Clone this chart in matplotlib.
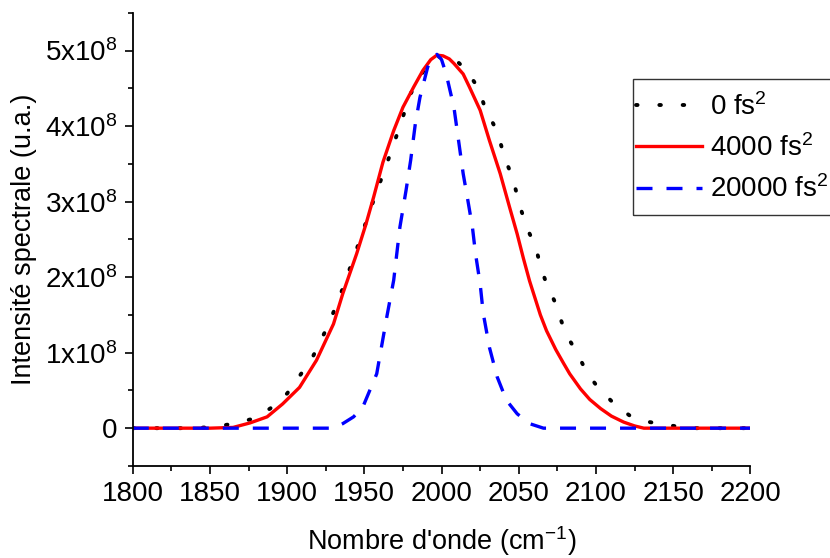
import numpy as np
import matplotlib.pyplot as plt
from matplotlib.patches import Rectangle
from matplotlib.ticker import MultipleLocator

plt.rcParams['font.family'] = ['Liberation Sans', 'DejaVu Sans']
plt.rcParams['mathtext.fontset'] = 'custom'
plt.rcParams['mathtext.rm'] = 'Liberation Sans'
plt.rcParams['mathtext.default'] = 'regular'

# 0 fs^2 (black dotted)
x0 = [1800, 1840, 1854, 1865, 1877, 1889, 1900, 1916, 1927, 1936, 1944, 1956,
      1968, 1980, 1988, 1995, 2000, 2003, 2007, 2016, 2024, 2028, 2034, 2038,
      2041, 2046, 2049, 2052, 2056, 2061, 2064, 2068, 2073, 2077, 2081, 2088,
      2094, 2102, 2113, 2123, 2135, 2147, 2160, 2200]
y0 = [0, 0, 0.02, 0.06, 0.12, 0.26, 0.46, 0.92, 1.38, 1.85, 2.31, 3.02,
      3.70, 4.43, 4.72, 4.87, 4.94, 4.95, 4.92, 4.74, 4.50, 4.25, 4.01, 3.79,
      3.57, 3.32, 3.08, 2.86, 2.62, 2.40, 2.15, 1.91, 1.69, 1.45, 1.23, 0.99,
      0.74, 0.52, 0.30, 0.15, 0.08, 0.04, 0, 0]

# 4000 fs^2 (red solid)
x1 = [1800, 1850, 1865, 1876, 1887, 1897, 1908, 1919, 1930, 1936, 1945, 1951,
      1956, 1962, 1969, 1975, 1982, 1988, 1993, 1997, 2001, 2005, 2008, 2014,
      2018, 2025, 2031, 2038, 2044, 2049, 2053, 2057, 2064, 2068, 2074, 2079,
      2083, 2090, 2096, 2103, 2110, 2118, 2125, 2131, 2200]
y1 = [0, 0, 0.01, 0.07, 0.15, 0.32, 0.54, 0.90, 1.38, 1.78, 2.31, 2.70,
      3.06, 3.52, 3.94, 4.25, 4.52, 4.74, 4.88, 4.94, 4.93, 4.89, 4.83, 4.69,
      4.52, 4.21, 3.81, 3.37, 2.93, 2.57, 2.25, 1.95, 1.50, 1.29, 1.04, 0.86,
      0.72, 0.52, 0.38, 0.26, 0.16, 0.08, 0.03, 0.0, 0]

# 20000 fs^2 (blue dashed)
x2 = [1800, 1930, 1936, 1943, 1949, 1958, 1964.5, 1969, 1973, 1977, 1980, 1983,
      1986, 1991, 1994, 1997, 2000, 2003, 2008, 2011, 2014, 2017, 2020, 2022,
      2025, 2027, 2031, 2036, 2042, 2049, 2057, 2066, 2200]
y2 = [0, 0, 0.06, 0.15, 0.28, 0.72, 1.47, 1.96, 2.66, 3.15, 3.55, 4.03,
      4.38, 4.78, 4.92, 4.95, 4.88, 4.69, 4.25, 3.81, 3.37, 3.02, 2.66, 2.31,
      1.91, 1.52, 1.07, 0.68, 0.37, 0.19, 0.06, 0, 0]

labels = ['0 fs$^2$', '4000 fs$^2$', '20000 fs$^2$']
yticks = [0, 1e8, 2e8, 3e8, 4e8, 5e8]
ytick_labels = ['0', '1x10$^8$', '2x10$^8$', '3x10$^8$', '4x10$^8$', '5x10$^8$']

fig = plt.figure(figsize=(8.3, 5.58), dpi=100)
ax = fig.add_axes([0.160, 0.165, 0.744, 0.812])

ax.plot(x0, np.array(y0) * 1e8, color='black', lw=2.8,
        linestyle=(0, (0.4, 5.6)), dash_capstyle='round', label=labels[0])
ax.plot(x1, np.array(y1) * 1e8, color='#ff0000', lw=2.4, label=labels[1])
ax.plot(x2, np.array(y2) * 1e8, color='#0000ff', lw=2.4,
        linestyle=(0, (4.8, 4.2)), label=labels[2])

ax.set_xlim(1800, 2200)
ax.set_ylim(-0.5e8, 5.5e8)
ax.xaxis.set_major_locator(MultipleLocator(50))
ax.xaxis.set_minor_locator(MultipleLocator(25))
ax.set_yticks(yticks)
ax.set_yticklabels(ytick_labels)
ax.yaxis.set_minor_locator(MultipleLocator(0.5e8))

for s in ['top', 'right']:
    ax.spines[s].set_visible(False)
for s in ['left', 'bottom']:
    ax.spines[s].set_linewidth(1.3)

ax.tick_params(which='major', direction='out', length=6, width=1.2,
               labelsize=20, pad=5)
ax.tick_params(which='minor', direction='out', length=3.5, width=1.2)

ax.set_xlabel("Nombre d'onde (cm$^{-1}$)", fontsize=19.5, labelpad=12)
ax.set_ylabel('Intensité spectrale (u.a.)', fontsize=19.5, labelpad=6)

# legend without its own frame; frame drawn separately so it can hug the handles
leg = ax.legend(loc='upper left', bbox_to_anchor=(0.7925, 0.854), fontsize=20,
                frameon=False, borderpad=0.5, handlelength=2.37,
                handletextpad=0.28, labelspacing=0.49, borderaxespad=0)
frame = Rectangle((633 / 830, 1 - 215 / 558), 0.3, (215 - 79) / 558,
                  transform=fig.transFigure, fill=False, edgecolor='#333333',
                  lw=1.0, clip_on=False)
fig.add_artist(frame)

fig.savefig('out.png', dpi=100)
